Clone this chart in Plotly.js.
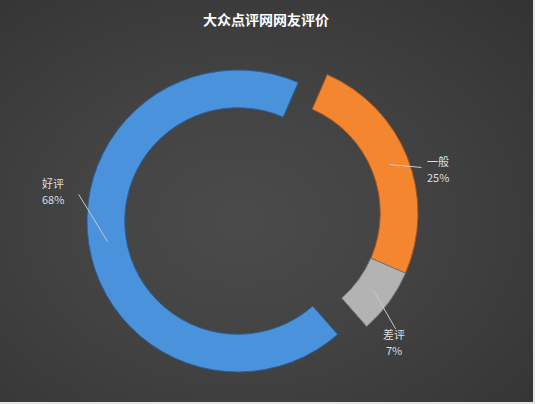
<!DOCTYPE html>
<html>
<head>
<meta charset="utf-8">
<script src="https://cdn.plot.ly/plotly-3.0.1.min.js"></script>
<style>
  html, body { margin: 0; padding: 0; }
  #chart {
    width: 535px; height: 404px;
    background: radial-gradient(ellipse at 45% 55%, #4b4b4b 0%, #424242 45%, #333333 100%);
    box-sizing: border-box;
    border-right: 2px solid #e6e6e6;
    border-bottom: 2px solid #e6e6e6;
  }
</style>
</head>
<body>
<div id="chart"></div>
<script>
// data
var labels = ['一般', '差评', '好评'];
var values = [25, 7, 68];
var colors = ['#f3862f', '#b3b3b3', '#4a92dc'];
var edgeColors = ['#a9531a', '#7a7a7a', '#2c5f94'];

var W = 535, H = 404;
var startAngle = 23.5;          // first slice starts here, clockwise from 12 o'clock
var hole = 0.75;
// the blue slice sits in place, the orange + grey group is exploded to the upper right
var mainCenter = [238, 221], groupCenter = [267, 213], R = 151;

function domainFor(c) {
  return {
    x: [(c[0] - R) / W, (c[0] + R) / W],
    y: [(H - c[1] - R) / H, (H - c[1] + R) / H]
  };
}

var clear = 'rgba(0,0,0,0)';
var inGroup = [true, true, false];

function ringTrace(center, show) {
  return {
    type: 'pie', sort: false, direction: 'clockwise', rotation: startAngle,
    labels: labels, values: values, hole: hole, textinfo: 'none', hoverinfo: 'label+percent',
    domain: domainFor(center),
    marker: {
      colors: colors.map(function (c, i) { return show(i) ? c : clear; }),
      line: { color: edgeColors.map(function (c, i) { return show(i) ? c : clear; }), width: 1 }
    },
    showlegend: false
  };
}
var traceMain = ringTrace(mainCenter, function (i) { return !inGroup[i]; });
var traceGroup = ringTrace(groupCenter, function (i) { return inGroup[i]; });

// leader lines start in the middle of each ring slice; text sits at the line's end
var total = values.reduce(function (a, b) { return a + b; }, 0);
var lineEnds = [[33, 3], [23, 40], [-30, -49]];
var textCenters = [[48, 4], [20, 51], [-54, -50]];
var lineGap = 16;
var labelFont = { size: 11, color: '#dedede', family: 'Noto Sans CJK SC, sans-serif' };
var annotations = [];
var acc = 0;
values.forEach(function (v, i) {
  var mid = (startAngle + (acc + v / 2) / total * 360) * Math.PI / 180;
  acc += v;
  var c = inGroup[i] ? groupCenter : mainCenter;
  var rMid = R * (1 + hole) / 2;
  var px = c[0] + rMid * Math.sin(mid);
  var py = c[1] - rMid * Math.cos(mid);
  annotations.push({
    xref: 'paper', yref: 'paper', x: px / W, y: 1 - py / H,
    text: ' ', font: { size: 1 },
    showarrow: true, arrowhead: 0, arrowwidth: 1, arrowcolor: '#c8c8c8', standoff: 0,
    ax: lineEnds[i][0], ay: lineEnds[i][1]
  });
  var tx = px + textCenters[i][0], ty = py + textCenters[i][1];
  annotations.push({
    xref: 'paper', yref: 'paper', x: tx / W, y: 1 - (ty - lineGap / 2) / H,
    xanchor: 'center', yanchor: 'middle', showarrow: false,
    text: labels[i], font: labelFont
  });
  annotations.push({
    xref: 'paper', yref: 'paper', x: tx / W, y: 1 - (ty + lineGap / 2) / H,
    xanchor: 'center', yanchor: 'middle', showarrow: false,
    text: Math.round(v / total * 100) + '%', font: labelFont
  });
});

var layout = {
  width: W, height: H,
  margin: { l: 0, r: 0, t: 0, b: 0 },
  paper_bgcolor: 'rgba(0,0,0,0)',
  plot_bgcolor: 'rgba(0,0,0,0)',
  title: {
    text: '<b>大众点评网网友评价</b>',
    font: { size: 14, color: '#ffffff', family: 'Noto Sans CJK SC, sans-serif' },
    x: 0.497, xanchor: 'center', y: 1 - 20 / H, yref: 'container', yanchor: 'middle'
  },
  annotations: annotations,
  showlegend: false
};

Plotly.newPlot('chart', [traceMain, traceGroup], layout, { displayModeBar: false, staticPlot: true });
</script>
</body>
</html>
